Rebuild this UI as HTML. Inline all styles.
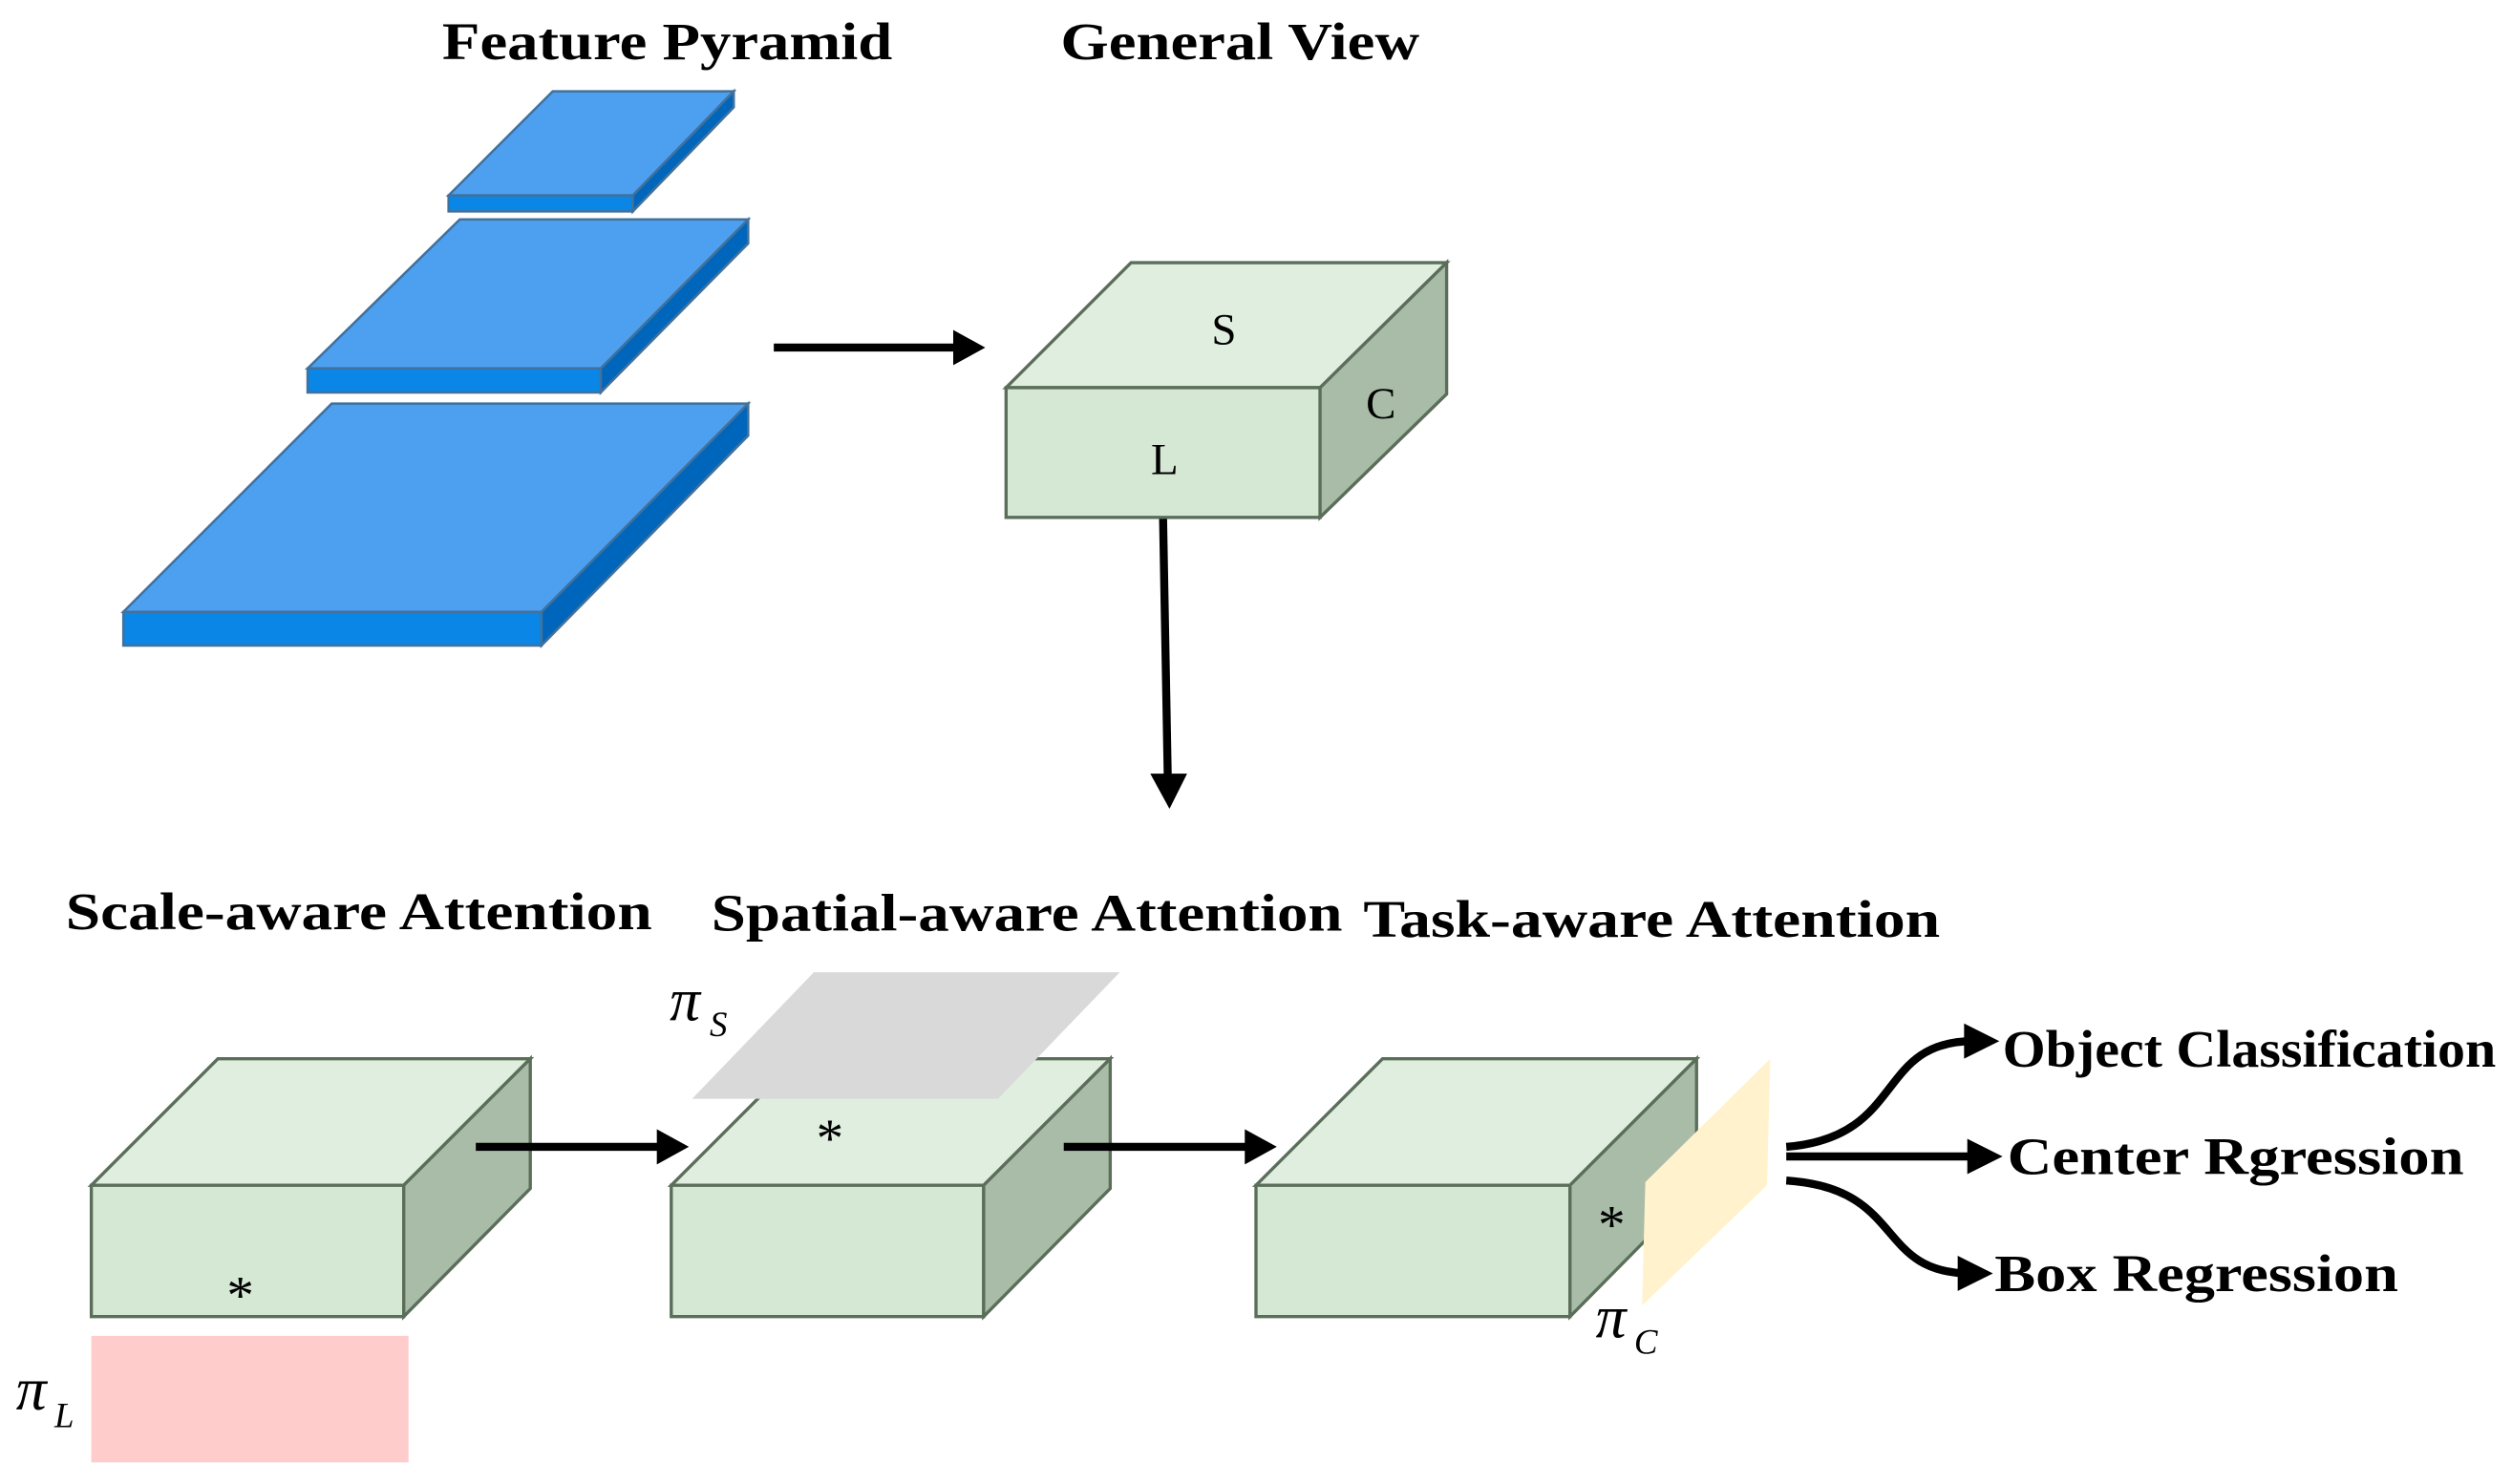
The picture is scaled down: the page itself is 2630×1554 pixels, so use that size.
<!DOCTYPE html>
<html><head><meta charset="utf-8"><style>
html,body{margin:0;padding:0;background:#fff;}
svg{display:block;}
text{font-family:"Liberation Serif",serif;}
.t{font-weight:bold;font-size:33px;}
</style></head><body>
<svg width="2630" height="1554" viewBox="0 0 1568 926.5" xmlns="http://www.w3.org/2000/svg">
<!-- Titles -->
<text class="t" x="276" y="37" textLength="281" lengthAdjust="spacingAndGlyphs">Feature Pyramid</text>
<text class="t" x="662" y="37" textLength="224" lengthAdjust="spacingAndGlyphs">General View</text>
<text class="t" x="41" y="580" textLength="366" lengthAdjust="spacingAndGlyphs">Scale-aware Attention</text>
<text class="t" x="444" y="581" textLength="394" lengthAdjust="spacingAndGlyphs">Spatial-aware Attention</text>
<text class="t" x="851" y="585" textLength="360" lengthAdjust="spacingAndGlyphs">Task-aware Attention</text>

<!-- Feature pyramid -->
<g stroke="#41719c" stroke-width="1.5">
<polygon points="280,122 345,57 458,57 395,122" fill="#4da0f0"/>
<polygon points="280,122 395,122 395,132 280,132" fill="#0a86e6"/>
<polygon points="395,122 458,57 458,67 395,132" fill="#0066bb"/>
<polygon points="192,230 287,137 467,137 375,230" fill="#4da0f0"/>
<polygon points="192,230 375,230 375,245 192,245" fill="#0a86e6"/>
<polygon points="375,230 467,137 467,152 375,245" fill="#0066bb"/>
<polygon points="77,382 207,252 467,252 338,382" fill="#4da0f0"/>
<polygon points="77,382 338,382 338,403 77,403" fill="#0a86e6"/>
<polygon points="338,382 467,252 467,272 338,403" fill="#0066bb"/>
</g>

<!-- General view box -->
<g stroke="#5a6e5a" stroke-width="2">
<polygon points="628,242 706,164 903,164 824,242" fill="#e0eedf"/>
<polygon points="628,242 824,242 824,323 628,323" fill="#d5e8d4"/>
<polygon points="824,242 903,164 903,246 824,323" fill="#a8bca8"/>
</g>
<text x="764" y="215" font-size="28" text-anchor="middle">S</text>
<text x="862" y="261" font-size="28" text-anchor="middle">C</text>
<text x="727" y="296" font-size="28" text-anchor="middle">L</text>

<!-- Box 1 -->
<g stroke="#5a6e5a" stroke-width="2">
<polygon points="57,740 136,661 331,661 252,740" fill="#e0eedf"/>
<polygon points="57,740 252,740 252,822 57,822" fill="#d5e8d4"/>
<polygon points="252,740 331,661 331,742 252,822" fill="#a8bca8"/>
</g>
<text x="150" y="820" font-size="34" text-anchor="middle">*</text>
<rect x="57" y="834" width="198" height="79" fill="#ffcccc"/>
<text x="10" y="880" font-size="38" font-style="italic">π</text>
<text x="34" y="891" font-size="22" font-style="italic">L</text>

<!-- Box 2 -->
<g stroke="#5a6e5a" stroke-width="2">
<polygon points="419,740 498,661 693,661 614,740" fill="#e0eedf"/>
<polygon points="419,740 614,740 614,822 419,822" fill="#d5e8d4"/>
<polygon points="614,740 693,661 693,742 614,822" fill="#a8bca8"/>
</g>
<polygon points="432,686 508,607 699,607 623,686" fill="#d9d9d9"/>
<text x="418" y="637" font-size="38" font-style="italic">π</text>
<text x="443" y="647" font-size="22" font-style="italic">S</text>
<text x="518" y="722" font-size="34" text-anchor="middle">*</text>

<!-- Box 3 -->
<g stroke="#5a6e5a" stroke-width="2">
<polygon points="784,740 863,661 1059,661 980,740" fill="#e0eedf"/>
<polygon points="784,740 980,740 980,822 784,822" fill="#d5e8d4"/>
<polygon points="980,740 1059,661 1059,742 980,822" fill="#a8bca8"/>
</g>
<polygon points="1027,738 1105,661 1103,740 1025,815" fill="#fff2cc"/>
<text x="1006" y="776" font-size="34" text-anchor="middle">*</text>
<text x="996" y="835" font-size="38" font-style="italic">π</text>
<text x="1020" y="845" font-size="22" font-style="italic">C</text>

<!-- arrows (on top) -->
<g stroke="#000" stroke-width="5" fill="none">
<line x1="483" y1="217" x2="603" y2="217"/>
<line x1="726" y1="324" x2="729" y2="490"/>
<line x1="297" y1="716" x2="418" y2="716"/>
<line x1="664" y1="716" x2="785" y2="716"/>
<path d="M1115,716 C1190,710 1170,650 1232,650"/>
<line x1="1115" y1="722" x2="1236" y2="722"/>
<path d="M1115,737 C1190,742 1170,795 1230,795"/>
</g>
<g fill="#000">
<polygon points="615,217 595,206 595,228"/>
<polygon points="730,505 718,483 741,483"/>
<polygon points="430,716 410,705 410,727"/>
<polygon points="797,716 777,705 777,727"/>
<polygon points="1248,650 1226,639 1226,661"/>
<polygon points="1250,722 1228,711 1228,733"/>
<polygon points="1244,795 1222,784 1222,806"/>
</g>

<!-- outputs -->
<text class="t" x="1250" y="666" textLength="308" lengthAdjust="spacingAndGlyphs">Object Classification</text>
<text class="t" x="1253" y="733" textLength="285" lengthAdjust="spacingAndGlyphs">Center Rgression</text>
<text class="t" x="1245" y="806" textLength="252" lengthAdjust="spacingAndGlyphs">Box Regression</text>
</svg>
</body></html>
